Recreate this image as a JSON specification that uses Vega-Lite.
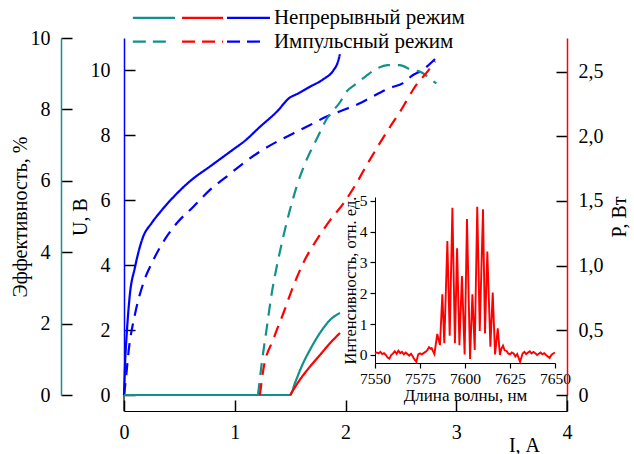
{
  "$schema": "https://vega.github.io/schema/vega-lite/v6.json",
  "width": 443,
  "height": 357,
  "autosize": {"type": "none"},
  "padding": {"left": 124, "top": 38, "right": 67, "bottom": 59},
  "background": "white",
  "config": {
    "view": {"stroke": null},
    "font": "Liberation Serif",
    "axis": {"grid": false, "labelFont": "Liberation Serif", "titleFont": "Liberation Serif", "labelColor": "black", "titleColor": "black", "titleFontWeight": "normal", "tickColor": "black", "labelFlush": false, "labelOverlap": false},
    "text": {"font": "Liberation Serif"}
  },
  "datasets": {
    "curves": [
      {"series": "U", "mode": "c", "I": 0, "value": 0},
      {"series": "U", "mode": "c", "I": 0.01, "value": 1.0},
      {"series": "U", "mode": "c", "I": 0.025, "value": 1.9},
      {"series": "U", "mode": "c", "I": 0.05, "value": 3.0},
      {"series": "U", "mode": "c", "I": 0.1, "value": 3.95},
      {"series": "U", "mode": "c", "I": 0.17, "value": 4.85},
      {"series": "U", "mode": "c", "I": 0.25, "value": 5.3},
      {"series": "U", "mode": "c", "I": 0.33, "value": 5.65},
      {"series": "U", "mode": "c", "I": 0.475, "value": 6.2},
      {"series": "U", "mode": "c", "I": 0.6, "value": 6.6},
      {"series": "U", "mode": "c", "I": 0.78, "value": 7.05},
      {"series": "U", "mode": "c", "I": 0.9, "value": 7.35},
      {"series": "U", "mode": "c", "I": 1.0, "value": 7.6},
      {"series": "U", "mode": "c", "I": 1.08, "value": 7.8},
      {"series": "U", "mode": "c", "I": 1.23, "value": 8.27},
      {"series": "U", "mode": "c", "I": 1.38, "value": 8.73},
      {"series": "U", "mode": "c", "I": 1.5, "value": 9.17},
      {"series": "U", "mode": "c", "I": 1.56, "value": 9.27},
      {"series": "U", "mode": "c", "I": 1.68, "value": 9.5},
      {"series": "U", "mode": "c", "I": 1.8, "value": 9.73},
      {"series": "U", "mode": "c", "I": 1.89, "value": 10.0},
      {"series": "U", "mode": "c", "I": 1.93, "value": 10.25},
      {"series": "U", "mode": "c", "I": 1.95, "value": 10.5},
      {"series": "U", "mode": "p", "I": 0, "value": 0},
      {"series": "U", "mode": "p", "I": 0.02, "value": 0.6},
      {"series": "U", "mode": "p", "I": 0.04, "value": 1.3},
      {"series": "U", "mode": "p", "I": 0.1, "value": 2.5},
      {"series": "U", "mode": "p", "I": 0.174, "value": 3.44},
      {"series": "U", "mode": "p", "I": 0.265, "value": 4.16},
      {"series": "U", "mode": "p", "I": 0.385, "value": 4.88},
      {"series": "U", "mode": "p", "I": 0.476, "value": 5.29},
      {"series": "U", "mode": "p", "I": 0.626, "value": 5.8},
      {"series": "U", "mode": "p", "I": 0.776, "value": 6.32},
      {"series": "U", "mode": "p", "I": 0.927, "value": 6.73},
      {"series": "U", "mode": "p", "I": 1.077, "value": 7.14},
      {"series": "U", "mode": "p", "I": 1.227, "value": 7.5},
      {"series": "U", "mode": "p", "I": 1.378, "value": 7.8},
      {"series": "U", "mode": "p", "I": 1.528, "value": 8.06},
      {"series": "U", "mode": "p", "I": 1.68, "value": 8.32},
      {"series": "U", "mode": "p", "I": 1.83, "value": 8.58},
      {"series": "U", "mode": "p", "I": 1.98, "value": 8.78},
      {"series": "U", "mode": "p", "I": 2.13, "value": 8.99},
      {"series": "U", "mode": "p", "I": 2.22, "value": 9.15},
      {"series": "U", "mode": "p", "I": 2.4, "value": 9.46},
      {"series": "U", "mode": "p", "I": 2.52, "value": 9.61},
      {"series": "U", "mode": "p", "I": 2.61, "value": 9.86},
      {"series": "U", "mode": "p", "I": 2.69, "value": 10.0},
      {"series": "U", "mode": "p", "I": 2.78, "value": 10.26},
      {"series": "U", "mode": "p", "I": 2.82, "value": 10.4},
      {"series": "eff", "mode": "c", "I": 0, "value": 0},
      {"series": "eff", "mode": "c", "I": 1.5, "value": 0},
      {"series": "eff", "mode": "c", "I": 1.543, "value": 0.33},
      {"series": "eff", "mode": "c", "I": 1.604, "value": 0.8},
      {"series": "eff", "mode": "c", "I": 1.68, "value": 1.27},
      {"series": "eff", "mode": "c", "I": 1.77, "value": 1.74},
      {"series": "eff", "mode": "c", "I": 1.86, "value": 2.1},
      {"series": "eff", "mode": "c", "I": 1.95, "value": 2.3},
      {"series": "eff", "mode": "p", "I": 1.21, "value": 0},
      {"series": "eff", "mode": "p", "I": 1.243, "value": 0.87},
      {"series": "eff", "mode": "p", "I": 1.29, "value": 1.9},
      {"series": "eff", "mode": "p", "I": 1.333, "value": 2.83},
      {"series": "eff", "mode": "p", "I": 1.378, "value": 3.58},
      {"series": "eff", "mode": "p", "I": 1.438, "value": 4.43},
      {"series": "eff", "mode": "p", "I": 1.498, "value": 5.18},
      {"series": "eff", "mode": "p", "I": 1.558, "value": 5.83},
      {"series": "eff", "mode": "p", "I": 1.65, "value": 6.6},
      {"series": "eff", "mode": "p", "I": 1.74, "value": 7.17},
      {"series": "eff", "mode": "p", "I": 1.83, "value": 7.73},
      {"series": "eff", "mode": "p", "I": 1.95, "value": 8.2},
      {"series": "eff", "mode": "p", "I": 2.01, "value": 8.5},
      {"series": "eff", "mode": "p", "I": 2.08, "value": 8.68},
      {"series": "eff", "mode": "p", "I": 2.18, "value": 8.92},
      {"series": "eff", "mode": "p", "I": 2.26, "value": 9.1},
      {"series": "eff", "mode": "p", "I": 2.38, "value": 9.24},
      {"series": "eff", "mode": "p", "I": 2.49, "value": 9.24},
      {"series": "eff", "mode": "p", "I": 2.6, "value": 9.1},
      {"series": "eff", "mode": "p", "I": 2.67, "value": 9.06},
      {"series": "eff", "mode": "p", "I": 2.78, "value": 8.82},
      {"series": "eff", "mode": "p", "I": 2.82, "value": 8.73},
      {"series": "P", "mode": "c", "I": 1.5, "value": 0},
      {"series": "P", "mode": "c", "I": 1.59, "value": 0.12},
      {"series": "P", "mode": "c", "I": 1.68, "value": 0.22},
      {"series": "P", "mode": "c", "I": 1.77, "value": 0.31},
      {"series": "P", "mode": "c", "I": 1.86, "value": 0.4},
      {"series": "P", "mode": "c", "I": 1.95, "value": 0.48},
      {"series": "P", "mode": "p", "I": 1.227, "value": 0},
      {"series": "P", "mode": "p", "I": 1.257, "value": 0.19},
      {"series": "P", "mode": "p", "I": 1.348, "value": 0.43},
      {"series": "P", "mode": "p", "I": 1.438, "value": 0.63},
      {"series": "P", "mode": "p", "I": 1.528, "value": 0.84},
      {"series": "P", "mode": "p", "I": 1.618, "value": 1.02},
      {"series": "P", "mode": "p", "I": 1.74, "value": 1.2},
      {"series": "P", "mode": "p", "I": 1.86, "value": 1.35},
      {"series": "P", "mode": "p", "I": 1.98, "value": 1.48},
      {"series": "P", "mode": "p", "I": 2.08, "value": 1.61},
      {"series": "P", "mode": "p", "I": 2.2, "value": 1.79},
      {"series": "P", "mode": "p", "I": 2.4, "value": 2.07},
      {"series": "P", "mode": "p", "I": 2.5, "value": 2.2},
      {"series": "P", "mode": "p", "I": 2.61, "value": 2.36},
      {"series": "P", "mode": "p", "I": 2.65, "value": 2.41},
      {"series": "P", "mode": "p", "I": 2.74, "value": 2.5},
      {"series": "P", "mode": "p", "I": 2.81, "value": 2.58}
    ],
    "spectrum": [
      {"wl": 7550, "v": 0.05}, {"wl": 7551, "v": 0.08}, {"wl": 7552, "v": 0.05}, {"wl": 7553, "v": 0.1},
      {"wl": 7554, "v": 0.03}, {"wl": 7555, "v": 0.06}, {"wl": 7556, "v": 0.0}, {"wl": 7557, "v": -0.08},
      {"wl": 7558, "v": -0.12}, {"wl": 7559, "v": 0.0}, {"wl": 7560, "v": 0.05}, {"wl": 7561, "v": 0.12},
      {"wl": 7562, "v": 0.04}, {"wl": 7563, "v": 0.14}, {"wl": 7564, "v": 0.06}, {"wl": 7565, "v": 0.1},
      {"wl": 7566, "v": 0.02}, {"wl": 7567, "v": 0.08}, {"wl": 7568, "v": 0.03}, {"wl": 7569, "v": -0.02},
      {"wl": 7570, "v": 0.04}, {"wl": 7571, "v": -0.05}, {"wl": 7572, "v": -0.15}, {"wl": 7573, "v": -0.22},
      {"wl": 7574, "v": 0.02}, {"wl": 7575, "v": 0.05}, {"wl": 7576, "v": 0.02}, {"wl": 7577, "v": 0.06},
      {"wl": 7578, "v": 0.1}, {"wl": 7579, "v": 0.15}, {"wl": 7580, "v": 0.25}, {"wl": 7581, "v": 0.2},
      {"wl": 7581.5, "v": 0.22}, {"wl": 7582, "v": 0.15}, {"wl": 7583, "v": 0.03}, {"wl": 7584.6, "v": 0.68},
      {"wl": 7586.1, "v": 0.32}, {"wl": 7587.4, "v": 1.97}, {"wl": 7588.5, "v": 0.38}, {"wl": 7590.2, "v": 3.69},
      {"wl": 7591.5, "v": 0.62}, {"wl": 7593, "v": 4.77}, {"wl": 7594.4, "v": 0.38}, {"wl": 7595.6, "v": 3.46},
      {"wl": 7596.9, "v": 0.32}, {"wl": 7598.3, "v": 2.56}, {"wl": 7599.8, "v": 0.02}, {"wl": 7601.1, "v": 4.41},
      {"wl": 7602.8, "v": -0.13}, {"wl": 7604.1, "v": 1.97}, {"wl": 7605.4, "v": 0.16}, {"wl": 7606.8, "v": 4.8},
      {"wl": 7608.2, "v": 0.78}, {"wl": 7610, "v": 4.72}, {"wl": 7611.1, "v": 0.7}, {"wl": 7612.4, "v": 3.35},
      {"wl": 7614.1, "v": 0.27}, {"wl": 7615.4, "v": 2.02}, {"wl": 7616.7, "v": 0.02}, {"wl": 7618.2, "v": 0.86},
      {"wl": 7619.4, "v": 0.0}, {"wl": 7620.2, "v": 0.2}, {"wl": 7621.1, "v": 0.3}, {"wl": 7622, "v": 0.15},
      {"wl": 7623.1, "v": 0.13}, {"wl": 7624, "v": 0.05}, {"wl": 7625, "v": 0.02}, {"wl": 7626, "v": 0.08},
      {"wl": 7627, "v": 0.05}, {"wl": 7628, "v": -0.05}, {"wl": 7629, "v": 0.03}, {"wl": 7630.6, "v": -0.22},
      {"wl": 7632, "v": 0.05}, {"wl": 7633, "v": 0.1}, {"wl": 7634, "v": 0.03}, {"wl": 7635, "v": 0.08},
      {"wl": 7636, "v": 0.12}, {"wl": 7637, "v": 0.05}, {"wl": 7638, "v": 0.1}, {"wl": 7639, "v": 0.06},
      {"wl": 7640, "v": 0.0}, {"wl": 7641, "v": 0.04}, {"wl": 7642, "v": 0.08}, {"wl": 7643, "v": 0.02},
      {"wl": 7644, "v": 0.06}, {"wl": 7645, "v": 0.0}, {"wl": 7646, "v": -0.05}, {"wl": 7647, "v": -0.1},
      {"wl": 7648, "v": 0.0}, {"wl": 7649, "v": 0.05}, {"wl": 7650, "v": 0.08}
    ]
  },
  "layer": [
    {
      "layer": [
        {
          "layer": [
            {
              "data": {"name": "curves"},
              "transform": [{"filter": "datum.series === 'U'"}],
              "mark": {"type": "line", "color": "#0000ff", "strokeWidth": 2.2, "interpolate": "monotone"},
              "encoding": {
                "x": {"field": "I", "type": "quantitative", "scale": {"domain": [0, 4], "nice": false},
                  "axis": {"orient": "bottom", "offset": 16, "values": [0, 1, 2, 3, 4], "format": "d", "tickSize": -11, "labelPadding": 22, "labelFontSize": 20, "domainColor": "black", "domainWidth": 1.2, "tickWidth": 1.5, "title": "I, А", "titleFontSize": 20, "titleX": 400, "titleY": 40, "titleAlign": "center", "titleBaseline": "alphabetic"}},
                "y": {"field": "value", "type": "quantitative", "scale": {"domain": [0, 11], "nice": false},
                  "axis": {"orient": "left", "values": [0, 2, 4, 6, 8, 10], "tickSize": -11, "labelPadding": 25, "labelFontSize": 20, "domainColor": "#0000ff", "domainWidth": 1.5, "tickWidth": 1.5, "title": "U, В", "titleFontSize": 20, "titlePadding": 0}},
                "strokeDash": {"field": "mode", "type": "nominal", "scale": {"domain": ["c", "p"], "range": [[1, 0], [12, 8]]}, "legend": null}
              }
            },
            {"data": {"values": [{}]}, "mark": {"type": "rule", "color": "black", "strokeWidth": 1.2}, "encoding": {"x": {"datum": 0}, "y": {"datum": 0}, "y2": {"datum": -0.5}}},
            {"data": {"values": [{}]}, "mark": {"type": "rule", "color": "black", "strokeWidth": 1.2}, "encoding": {"x": {"datum": 4}, "y": {"datum": 0}, "y2": {"datum": -0.5}}},
            {"data": {"values": [{}]}, "mark": {"type": "rule", "color": "#11908c", "strokeWidth": 2.2}, "encoding": {"x": {"datum": 0.08}, "x2": {"datum": 0.46}, "y": {"datum": 11.62}}},
            {"data": {"values": [{}]}, "mark": {"type": "rule", "color": "#ff0000", "strokeWidth": 2.2}, "encoding": {"x": {"datum": 0.524}, "x2": {"datum": 0.894}, "y": {"datum": 11.62}}},
            {"data": {"values": [{}]}, "mark": {"type": "rule", "color": "#0000ff", "strokeWidth": 2.2}, "encoding": {"x": {"datum": 0.93}, "x2": {"datum": 1.318}, "y": {"datum": 11.62}}},
            {"data": {"values": [{}]}, "mark": {"type": "rule", "color": "#11908c", "strokeWidth": 2.2, "strokeDash": [13, 7]}, "encoding": {"x": {"datum": 0.08}, "x2": {"datum": 0.41}, "y": {"datum": 10.89}}},
            {"data": {"values": [{}]}, "mark": {"type": "rule", "color": "#ff0000", "strokeWidth": 2.2, "strokeDash": [13, 7]}, "encoding": {"x": {"datum": 0.524}, "x2": {"datum": 0.894}, "y": {"datum": 10.89}}},
            {"data": {"values": [{}]}, "mark": {"type": "rule", "color": "#0000ff", "strokeWidth": 2.2, "strokeDash": [13, 7]}, "encoding": {"x": {"datum": 0.93}, "x2": {"datum": 1.26}, "y": {"datum": 10.89}}},
            {"data": {"values": [{}]}, "mark": {"type": "text", "text": "Непрерывный режим", "align": "left", "baseline": "middle", "fontSize": 21, "color": "black"}, "encoding": {"x": {"datum": 1.354}, "y": {"datum": 11.62}}},
            {"data": {"values": [{}]}, "mark": {"type": "text", "text": "Импульсный режим", "align": "left", "baseline": "middle", "fontSize": 21, "color": "black"}, "encoding": {"x": {"datum": 1.354}, "y": {"datum": 10.89}}}
          ]
        },
        {
          "data": {"name": "curves"},
          "transform": [{"filter": "datum.series === 'eff'"}],
          "mark": {"type": "line", "color": "#11908c", "strokeWidth": 2.2, "interpolate": "monotone"},
          "encoding": {
            "x": {"field": "I", "type": "quantitative", "scale": {"domain": [0, 4], "nice": false},
              "axis": {"orient": "bottom", "offset": 16, "values": [0, 1, 2, 3, 4], "format": "d", "tickSize": -11, "labelPadding": 22, "labelFontSize": 20, "domainColor": "black", "domainWidth": 1.2, "tickWidth": 1.5, "title": "I, А", "titleFontSize": 20, "titleX": 400, "titleY": 40, "titleAlign": "center", "titleBaseline": "alphabetic"}},
            "y": {"field": "value", "type": "quantitative", "scale": {"domain": [0, 10], "nice": false},
              "axis": {"orient": "left", "offset": 63, "values": [0, 2, 4, 6, 8, 10], "tickSize": -11, "labelPadding": 22, "labelFontSize": 20, "domainColor": "#11908c", "domainWidth": 1.5, "tickWidth": 1.5, "title": "Эффективность, %", "titleFontSize": 20, "titlePadding": 0}},
            "strokeDash": {"field": "mode", "type": "nominal", "scale": {"domain": ["c", "p"], "range": [[1, 0], [12, 8]]}, "legend": null}
          }
        },
        {
          "data": {"name": "curves"},
          "transform": [{"filter": "datum.series === 'P'"}],
          "mark": {"type": "line", "color": "#ff0000", "strokeWidth": 2.2, "interpolate": "monotone"},
          "encoding": {
            "x": {"field": "I", "type": "quantitative", "scale": {"domain": [0, 4], "nice": false},
              "axis": {"orient": "bottom", "offset": 16, "values": [0, 1, 2, 3, 4], "format": "d", "tickSize": -11, "labelPadding": 22, "labelFontSize": 20, "domainColor": "black", "domainWidth": 1.2, "tickWidth": 1.5, "title": "I, А", "titleFontSize": 20, "titleX": 400, "titleY": 40, "titleAlign": "center", "titleBaseline": "alphabetic"}},
            "y": {"field": "value", "type": "quantitative", "scale": {"domain": [0, 2.76], "nice": false},
              "axis": {"orient": "right", "values": [0, 0.5, 1, 1.5, 2, 2.5], "labelExpr": "datum.value == 0 ? '0' : replace(format(datum.value, '.1f'), '.', ',')", "tickSize": -11, "labelPadding": 22, "labelFontSize": 20, "domainColor": "#ff0000", "domainWidth": 1.5, "tickWidth": 1.5, "title": "P, Вт", "titleFontSize": 20, "titleAngle": 270, "titlePadding": 26}},
            "strokeDash": {"field": "mode", "type": "nominal", "scale": {"domain": ["c", "p"], "range": [[1, 0], [12, 8]]}, "legend": null}
          }
        }
      ],
      "resolve": {"scale": {"y": "independent"}, "axis": {"y": "independent"}}
    },
    {
      "data": {"name": "spectrum"},
      "mark": {"type": "line", "color": "#ff0000", "strokeWidth": 1.9},
      "encoding": {
        "x": {"field": "wl", "type": "quantitative", "scale": {"domain": [7550, 7650], "range": [251, 431], "nice": false, "zero": false},
          "axis": {"orient": "bottom", "offset": -32, "values": [7550, 7575, 7600, 7625, 7650], "format": "d", "tickSize": 5, "labelPadding": 3, "labelFontSize": 15.5, "domainColor": "black", "tickWidth": 1.2, "title": "Длина волны, нм", "titleFontSize": 17, "titlePadding": 1}},
        "y": {"field": "v", "type": "quantitative", "scale": {"domain": [-0.26, 5.12], "range": [325, 159], "nice": false, "zero": false},
          "axis": {"orient": "left", "offset": -251, "values": [0, 1, 2, 3, 4, 5], "tickSize": 5, "labelPadding": 3, "labelFontSize": 15.5, "domainColor": "black", "tickWidth": 1.2, "title": "Интенсивность, отн. ед.", "titleFontSize": 16.5, "titlePadding": 1}}
      }
    }
  ],
  "resolve": {"scale": {"x": "independent", "y": "independent"}, "axis": {"x": "independent", "y": "independent"}}
}
